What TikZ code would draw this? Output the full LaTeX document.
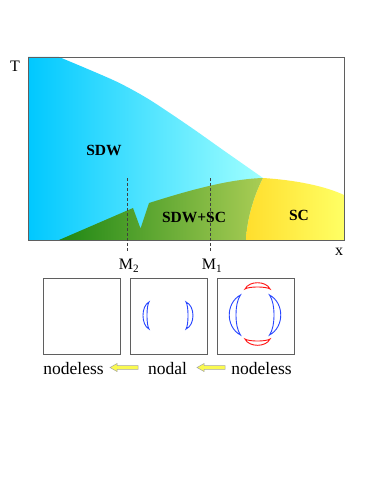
\documentclass[tikz,border=0pt]{standalone}
\usepackage{fontspec}
\setmainfont{Liberation Serif}
\definecolor{frameg}{RGB}{95,95,95}
\definecolor{blueL}{RGB}{0,200,255}
\definecolor{blueR}{RGB}{160,255,255}
\definecolor{greenL}{RGB}{30,135,20}
\definecolor{greenR}{RGB}{170,205,85}
\definecolor{yelL}{RGB}{255,222,45}
\definecolor{yelR}{RGB}{255,255,100}
\definecolor{arcblue}{RGB}{40,70,255}
\definecolor{arcred}{RGB}{255,20,20}
\definecolor{arrowy}{RGB}{250,250,80}
\tikzset{
  phaselbl/.style={font=\fontsize{15.5}{16}\selectfont\bfseries, inner sep=0pt},
  axlbl/.style={font=\fontsize{16}{17}\selectfont, inner sep=0pt},
  gaplbl/.style={font=\fontsize{17.5}{18}\selectfont, inner sep=0pt},
  gapbox/.style={draw=frameg, line width=0.9pt},
  mline/.style={draw=black!75, dashed, dash pattern=on 3pt off 2pt, line width=0.6pt},
  fsarc/.style={line width=0.9pt},
  yarrow/.style={fill=arrowy, draw=gray!70, line width=0.5pt}
}
\begin{document}
\begin{tikzpicture}[x=1pt,y=-1pt]
\path[use as bounding box, fill=white] (0,0) rectangle (374,484);
% SDW region
\shade[left color=blueL, right color=blueR]
  (28,57) -- (59,57) -- plot[smooth, tension=0.5] coordinates {(59,57) (90,70) (120,83.3) (150,100) (190,126.7) (223,150) (263,178)}
  -- (263,240) -- (28,240) -- cycle;
% SDW+SC region
\shade[left color=greenL, right color=greenR]
  (59,240) -- (133,208) -- (140.5,228.5) -- (149,203)
  .. controls (190,190) and (230,179) .. (263,178)
  .. controls (253,198) and (247,220) .. (246,240) -- cycle;
% SC region
\shade[left color=yelL, right color=yelR]
  (263,178) .. controls (295,180) and (325,186) .. (344,195)
  -- (344,240) -- (246,240)
  .. controls (247,220) and (253,198) .. (263,178) -- cycle;
% frame
\node[draw=frameg, line width=0.9pt, minimum width=316pt, minimum height=183pt, inner sep=0pt, anchor=north west] (frame) at (28,57) {};
% axis labels
\node[axlbl] (T) at (15,66) {T};
\node[axlbl] (X) at (339,252) {x};
% phase labels
\node[phaselbl] (sdw) at (104,150) {SDW};
\node[phaselbl] (sdwsc) at (194,217) {SDW+SC};
\node[phaselbl] (sc) at (299,215) {SC};
% dashed lines
\coordinate (m2top) at (127,178);
\coordinate (m1top) at (210,178);
\node[axlbl, anchor=north] (M2) at (129,259) {M\textsubscript{2}};
\node[axlbl, anchor=north] (M1) at (212,259) {M\textsubscript{1}};
\draw[mline] (m2top) -- (127,252);
\draw[mline] (m1top) -- (210,252);
% gap boxes
\node[gapbox, minimum width=77pt, minimum height=76pt, inner sep=0pt, anchor=north west] (b1) at (42.5,277.5) {};
\node[gapbox, minimum width=77pt, minimum height=76pt, inner sep=0pt, anchor=north west] (b2) at (129.5,277.5) {};
\node[gapbox, minimum width=77pt, minimum height=76pt, inner sep=0pt, anchor=north west] (b3) at (216.5,277.5) {};
% box 2 arcs
\draw[fsarc, arcblue] (149,302) .. controls (141,306) and (141,325) .. (149,329) .. controls (146.3,325) and (146.3,306) .. (149,302) -- cycle;
\draw[fsarc, arcblue] (186,302) .. controls (195.3,306) and (195.3,325) .. (186,329) .. controls (188.7,325) and (188.7,306) .. (186,302) -- cycle;
% box 3 arcs
\draw[fsarc, arcblue] (240.5,295) .. controls (225.5,303) and (225.5,327) .. (240.5,335) .. controls (234.5,327) and (234.5,303) .. (240.5,295) -- cycle;
\draw[fsarc, arcblue] (269.5,295) .. controls (284.5,303) and (284.5,327) .. (269.5,335) .. controls (275.5,327) and (275.5,303) .. (269.5,295) -- cycle;
\draw[fsarc, arcred] (245,289) .. controls (249,280.6) and (266,280.6) .. (270,289) .. controls (266,286.3) and (249,286.3) .. (245,289) -- cycle;
\draw[fsarc, arcred] (245,339) .. controls (249,347.4) and (266,347.4) .. (270,339) .. controls (266,341.7) and (249,341.7) .. (245,339) -- cycle;
% bottom texts
\node[gaplbl] (n1) at (73.5,369) {nodeless};
\node[gaplbl] (n2) at (167.5,369) {nodal};
\node[gaplbl] (n3) at (261.5,369) {nodeless};
% yellow arrows
\draw[yarrow] (110,367.5) -- (117,363.5) -- (117,365.7) -- (138,365.7) -- (138,369.3) -- (117,369.3) -- (117,371.5) -- cycle;
\draw[yarrow] (197,367.5) -- (204,363.5) -- (204,365.7) -- (225,365.7) -- (225,369.3) -- (204,369.3) -- (204,371.5) -- cycle;
\end{tikzpicture}
\end{document}
